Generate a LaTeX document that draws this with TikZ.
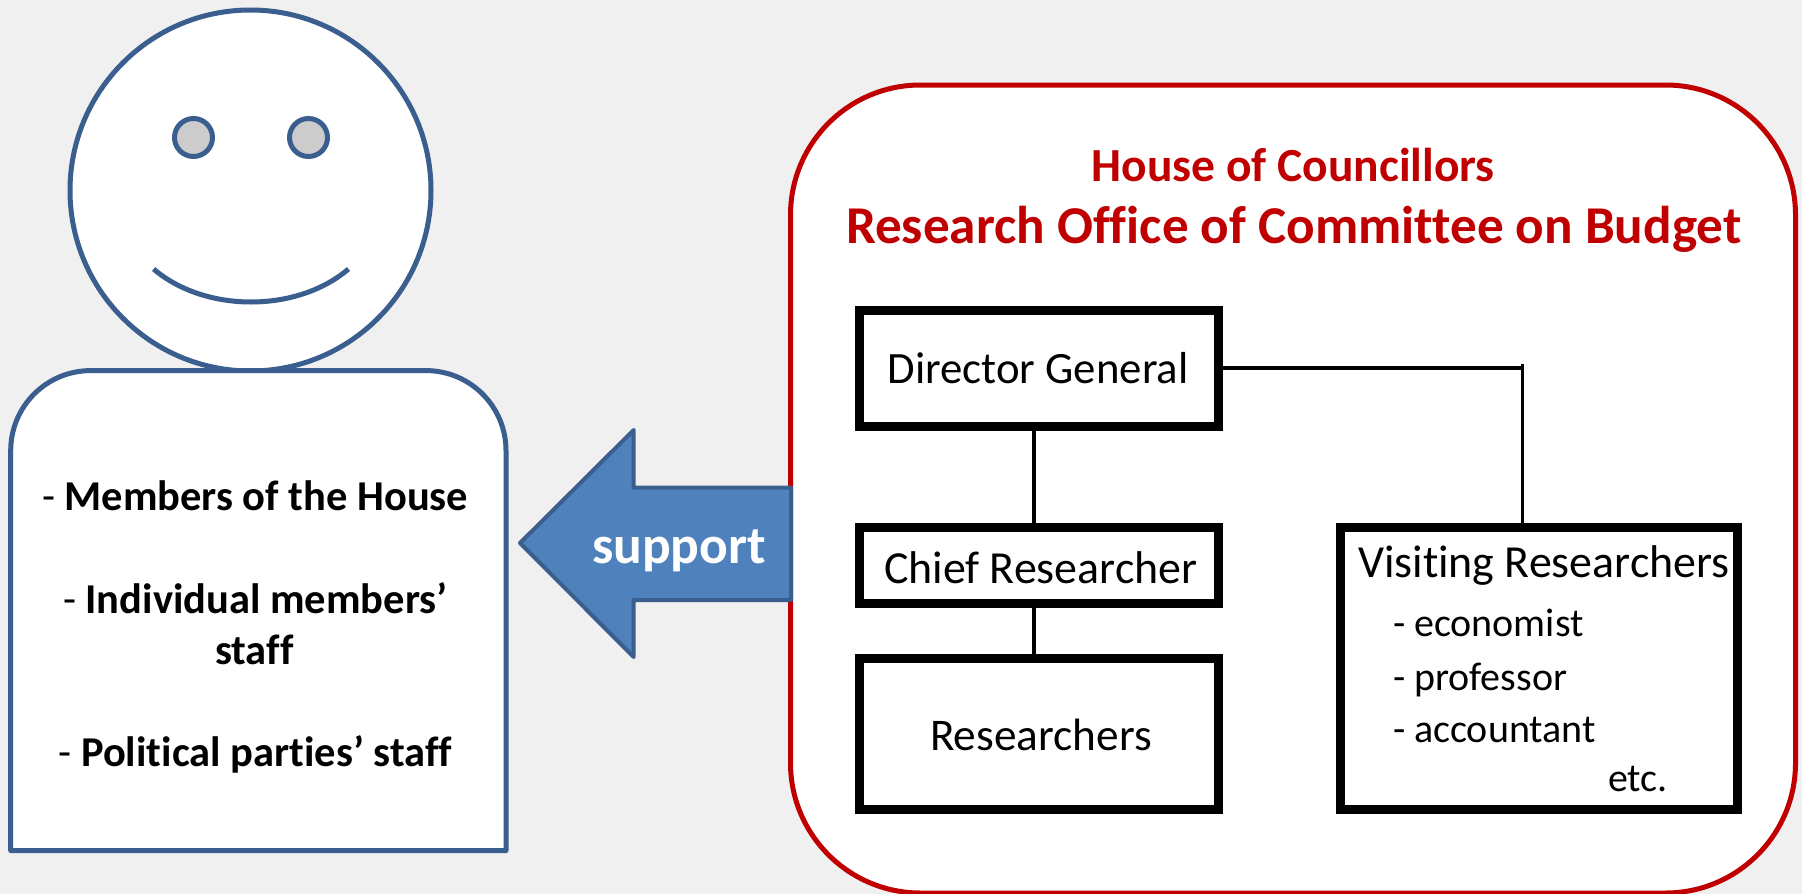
\documentclass[tikz,border=0pt]{standalone}
\usepackage{fontspec}
\setmainfont[Ligatures=NoCommon]{Carlito}
\definecolor{bgc}{HTML}{F0F0F0}
\definecolor{outl}{HTML}{3A5F8F}
\definecolor{arrowc}{HTML}{4F81BD}
\definecolor{redc}{HTML}{C00000}
\definecolor{eyec}{HTML}{CCCCCC}
\newcommand{\fs}[1]{\fontsize{#1}{#1}\selectfont}
\tikzset{
  lbl/.style={anchor=base west,inner sep=0pt,outer sep=0pt,text=black},
  bluel/.style={draw=outl,line width=5pt},
  orgbox/.style={draw=black,line width=9pt,fill=white,rectangle,inner sep=0pt},
  conn/.style={draw=black,line width=3.5pt}
}
\begin{document}
\begin{tikzpicture}[x=1pt,y=-1pt]
\useasboundingbox (0,0) rectangle (1802,894);
\fill[bgc] (0,0) rectangle (1802,894);
% person
\node[bluel,fill=white,circle,minimum size=361pt,inner sep=0pt] (head) at (250.5,190.5) {};
\node[bluel,fill=eyec,circle,minimum size=38pt,inner sep=0pt] (eyeL) at (193.5,137.5) {};
\node[bluel,fill=eyec,circle,minimum size=38pt,inner sep=0pt] (eyeR) at (308.5,137.5) {};
\draw[bluel] (153.6,269) .. controls (205,313) and (297,313) .. (348.5,269);
\draw[bluel,fill=white,line join=round] (10.7,850.6) -- (10.7,450.6) .. controls (10.7,406.4) and (46.5,370.6) .. (90.7,370.6) -- (426,370.6) .. controls (470.2,370.6) and (506,406.4) .. (506,450.6) -- (506,850.6) -- cycle;
\node[lbl,font=\fs{42.5}] (t1) at (42,510.5) {- \textbf{Members of the House}};
\node[lbl,font=\fs{42.5}] (t2) at (63,613.5) {- \textbf{Individual members’}};
\node[lbl,font=\fs{42.5}] (t3) at (215,664.5) {\textbf{staff}};
\node[lbl,font=\fs{42.5}] (t4) at (58.5,766) {- \textbf{Political parties’ staff}};
% office
\node[draw=redc,line width=5pt,fill=white,rectangle,rounded corners=130pt,minimum width=1005pt,minimum height=808pt,inner sep=0pt] (office) at (1293,489) {};
% arrow
\draw[draw=outl,line width=4pt,fill=arrowc,line join=round] (791,487.5) -- (633.7,487.5) -- (633.7,430) -- (520,543) -- (633.7,657) -- (633.7,600) -- (791,600) -- cycle;
\node[lbl,text=white,font=\fs{53.5}\bfseries] (sup) at (592,563) {support};
% titles
\node[lbl,text=redc,font=\fs{47.5}\bfseries] (h1) at (1091.6,181) {House of Councillors};
\node[lbl,text=redc,font=\fs{53.2}\bfseries] (h2) at (846,243.5) {Research Office of Committee on Budget};
% boxes
\node[orgbox,minimum width=359pt,minimum height=116pt] (dg) at (1039,368) {};
\node[orgbox,minimum width=359pt,minimum height=76pt] (cr) at (1039,565.5) {};
\node[orgbox,minimum width=359pt,minimum height=151pt] (rs) at (1039,733.5) {};
\node[orgbox,minimum width=397pt,minimum height=282pt] (vr) at (1539,668) {};
\coordinate (corner) at (1522.5,368);
\coordinate (cornertop) at (1522.5,364);
\draw[conn] ([xshift=-5pt]dg.south) -- ([xshift=-5pt]cr.north);
\draw[conn] ([xshift=-5pt]cr.south) -- ([xshift=-5pt]rs.north);
\draw[conn] (dg.east) -- (corner);
\draw[conn] (cornertop) -- (vr.north -| corner);
\node[lbl,font=\fs{44.8}] (l1) at (887.6,383) {Director General};
\node[lbl,font=\fs{45.9}] (l2) at (884,583) {Chief Researcher};
\node[lbl,font=\fs{45.3}] (l3) at (930,750) {Researchers};
\node[lbl,font=\fs{45.9}] (l4) at (1358,577) {Visiting Researchers};
\node[lbl,font=\fs{40}] (l5) at (1393,636.5) {- economist};
\node[lbl,font=\fs{40}] (l6) at (1393,690) {- professor};
\node[lbl,font=\fs{40}] (l7) at (1393,742) {- accountant};
\node[lbl,font=\fs{40}] (l8) at (1608,791) {etc.};
\end{tikzpicture}
\end{document}
